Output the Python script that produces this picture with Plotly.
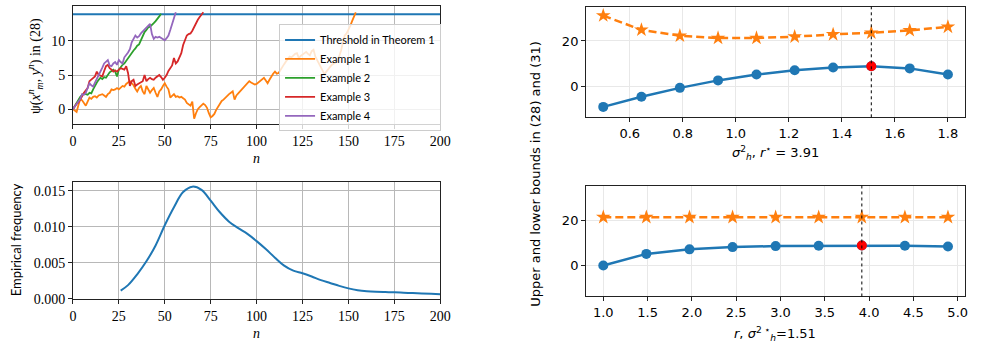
import plotly.graph_objects as go

# ---------------- data ----------------
threshold = 13.9
thr_n = [0, 200]

ex1 = [0.0, -0.2, -0.4, 0.6, 1.5, 1.3, 0.9, 0.5, 1.1, 1.7, 1.5, 1.8, 1.9, 1.7, 2.0, 2.1, 2.2, 2.0, 1.8, 2.2,
       2.4, 2.9, 2.8, 2.9, 3.1, 2.9, 3.2, 3.4, 3.3, 3.7, 3.9, 4.1, 3.8, 3.5, 3.0, 2.6, 3.1, 3.4, 2.6, 2.2,
       3.4, 2.9, 2.4, 2.8, 3.1, 2.4, 1.8, 2.6, 2.9, 3.4, 3.8, 3.3, 2.9, 1.7, 2.0, 2.2, 1.8, 1.9, 1.7, 1.8,
       1.6, 1.4, 0.9, 0.7, 0.5, 1.1, -1.4, -0.6, 0.0, 0.3, 0.6, 0.8, 0.6, 0.2, -0.6, -1.2, -1.0, -0.7, -0.1, 0.3,
       0.8, 1.2, 1.4, 1.7, 2.0, 2.2, 2.4, 2.6, 1.4, 2.0, 2.3, 2.6, 3.0, 3.3, 3.6, 3.9, 4.1, 3.9, 3.8, 3.6,
       3.7, 3.9, 4.1, 4.3, 4.6, 4.2, 3.8, 4.3, 4.8, 5.2, 5.5, 5.2, 5.3, 5.8, 6.2, 6.6, 7.0, 7.3, 7.7, 7.6,
       7.9, 8.1, 8.2, 7.5, 7.8, 8.0, 8.2, 8.4, 8.1, 7.9, 8.5, 8.7, 7.7, 7.2, 6.7, 6.3, 5.6, 5.1, 5.5, 5.9,
       6.2, 6.5, 6.7, 6.9, 7.0, 7.8, 8.6, 9.8, 10.8, 11.1, 11.6, 12.2, 12.9, 13.7, 14.2]
ex2 = [0.0, 0.5, 0.9, 1.3, 1.8, 2.1, 2.3, 2.2, 2.1, 2.4, 2.3, 2.9, 3.5, 3.9, 4.3, 4.6, 4.4, 4.7, 4.6, 5.1,
       5.4, 5.6, 5.8, 5.5, 4.8, 5.8, 6.2, 6.5, 6.7, 7.1, 7.5, 7.8, 8.2, 8.6, 8.9, 9.3, 9.5, 10.2, 10.8, 11.3,
       11.6, 12.0, 12.1, 12.3, 12.6, 12.9, 13.2, 13.6, 14.0]
ex3 = [0.0, 0.4, 0.8, 1.0, 1.4, 1.9, 2.4, 2.8, 3.1, 4.1, 4.3, 4.6, 4.8, 5.5, 5.0, 4.9, 4.8, 5.6, 6.3, 6.5,
       6.0, 5.8, 5.5, 5.7, 5.5, 5.8, 6.0, 5.9, 5.8, 6.3, 5.3, 3.4, 4.1, 4.3, 3.4, 3.6, 3.8, 4.0, 4.1, 5.0,
       4.1, 4.4, 4.6, 4.4, 4.3, 4.6, 4.8, 5.0, 4.7, 4.3, 4.6, 5.0, 5.6, 6.0, 6.4, 7.5, 6.7, 7.0, 7.6, 8.2,
       9.4, 10.2, 10.8, 11.0, 11.1, 11.5, 12.1, 12.7, 13.1, 13.5, 13.9, 14.2]
ex4 = [0.0, 0.4, 0.8, 1.1, 1.5, 2.2, 2.1, 2.4, 3.0, 3.8, 3.5, 3.3, 3.9, 4.4, 5.0, 5.5, 6.1, 6.7, 7.0, 7.2,
       6.4, 6.3, 6.7, 6.9, 6.5, 7.2, 6.9, 6.7, 7.6, 7.9, 8.3, 8.8, 9.8, 10.3, 10.8, 10.5, 10.7, 11.1, 11.4, 11.7,
       11.9, 12.3, 12.5, 11.0, 10.3, 10.6, 10.5, 10.6, 10.4, 10.2, 10.1, 10.4, 10.8, 11.6, 12.6, 13.5, 14.2]

dens_n = [26, 30, 35, 40, 45, 50, 55, 60, 65, 70, 75, 80, 85, 90, 95, 100, 105, 110, 115, 120,
          125, 130, 135, 140, 145, 150, 155, 160, 165, 170, 175, 180, 185, 190, 195, 200]
dens_f = [0.00114, 0.0019, 0.0034, 0.0052, 0.0074, 0.0102, 0.0127, 0.0148, 0.01555, 0.0151,
          0.0136, 0.0120, 0.0107, 0.0098, 0.0090, 0.0080, 0.0069, 0.0057, 0.0046, 0.0039,
          0.00355, 0.0031, 0.0026, 0.0022, 0.0018, 0.00145, 0.0012, 0.00105, 0.00097, 0.00093,
          0.0009, 0.00085, 0.0008, 0.00075, 0.0007, 0.00065]

sigma2 = [0.5, 0.644, 0.789, 0.933, 1.078, 1.222, 1.367, 1.511, 1.656, 1.8]
upper_sigma = [31.2, 24.9, 22.3, 21.3, 21.3, 21.9, 22.9, 23.6, 24.7, 26.2]
lower_sigma = [-9.1, -4.6, -0.7, 2.6, 5.2, 7.05, 8.3, 8.8, 7.9, 5.2]
sigma_star = 1.511
lower_sigma_star = 8.8

r_vals = [1.0, 1.486, 1.973, 2.459, 2.945, 3.431, 3.918, 4.404, 4.89]
upper_r = [21.3, 21.3, 21.3, 21.3, 21.3, 21.3, 21.3, 21.3, 21.3]
lower_r = [0.0, 5.1, 7.1, 8.1, 8.55, 8.7, 8.8, 8.7, 8.4]
r_star = 3.918
lower_r_star = 8.8

# ---------------- styling ----------------
BLUE, ORANGE, GREEN, RED, PURPLE = "#1f77b4", "#ff7f0e", "#2ca02c", "#d62728", "#9467bd"
SERIF = "Liberation Serif"
SANS_L = "Lato"
SANS_R = "DejaVu Sans"
W, H = 986, 356

fig = go.Figure()

# top-left
fig.add_trace(go.Scatter(x=thr_n, y=[threshold, threshold], mode="lines", name="Threshold in Theorem 1",
                         line=dict(color=BLUE, width=2), xaxis="x", yaxis="y"))
for name, vals, col in [("Example 1", ex1, ORANGE), ("Example 2", ex2, GREEN),
                        ("Example 3", ex3, RED), ("Example 4", ex4, PURPLE)]:
    fig.add_trace(go.Scatter(x=list(range(len(vals))), y=vals, mode="lines", name=name,
                             line=dict(color=col, width=1.8), xaxis="x", yaxis="y"))

# bottom-left
fig.add_trace(go.Scatter(x=dens_n, y=dens_f, mode="lines", line=dict(color=BLUE, width=2, shape="spline"),
                         showlegend=False, xaxis="x2", yaxis="y2"))

# top-right
fig.add_trace(go.Scatter(x=sigma2, y=upper_sigma, mode="lines+markers", showlegend=False,
                         line=dict(color=ORANGE, width=2.5, dash="8px,4px"),
                         marker=dict(symbol="star", size=11, color=ORANGE), xaxis="x3", yaxis="y3"))
fig.add_trace(go.Scatter(x=sigma2, y=lower_sigma, mode="lines+markers", showlegend=False,
                         line=dict(color=BLUE, width=2.5),
                         marker=dict(symbol="circle", size=10, color=BLUE), xaxis="x3", yaxis="y3"))
fig.add_trace(go.Scatter(x=[sigma_star], y=[lower_sigma_star], mode="markers", showlegend=False,
                         marker=dict(symbol="circle", size=10, color="#ff0000"), xaxis="x3", yaxis="y3"))

# bottom-right
fig.add_trace(go.Scatter(x=r_vals, y=upper_r, mode="lines+markers", showlegend=False,
                         line=dict(color=ORANGE, width=2.5, dash="8px,4px"),
                         marker=dict(symbol="star", size=11, color=ORANGE), xaxis="x4", yaxis="y4"))
fig.add_trace(go.Scatter(x=r_vals, y=lower_r, mode="lines+markers", showlegend=False,
                         line=dict(color=BLUE, width=2.5),
                         marker=dict(symbol="circle", size=10, color=BLUE), xaxis="x4", yaxis="y4"))
fig.add_trace(go.Scatter(x=[r_star], y=[lower_r_star], mode="markers", showlegend=False,
                         marker=dict(symbol="circle", size=10, color="#ff0000"), xaxis="x4", yaxis="y4"))

# vertical dotted lines
fig.add_shape(type="line", xref="x3", yref="y3 domain", x0=sigma_star, x1=sigma_star, y0=0, y1=1,
              line=dict(color="black", width=1, dash="dot"))
fig.add_shape(type="line", xref="x4", yref="y4 domain", x0=r_star, x1=r_star, y0=0, y1=1,
              line=dict(color="black", width=1, dash="dot"))

def px_x(a, b):
    return [a / W, b / W]

def px_y(top, bottom):
    return [1 - bottom / H, 1 - top / H]

left_ax = dict(showline=True, linecolor="#222", linewidth=1, mirror=True, ticks="outside", ticklen=4,
               tickcolor="#222", showgrid=True, gridcolor="#b8b8b8", gridwidth=1, zeroline=False,
               tickfont=dict(family=SERIF, size=14, color="black"))
right_ax = dict(showline=True, linecolor="#222", linewidth=1, mirror=True, ticks="outside", ticklen=4,
                tickcolor="#222", showgrid=True, gridcolor="#e8e8e8", gridwidth=1, zeroline=False,
                tickfont=dict(family=SANS_R, size=13, color="black"))

fig.update_layout(
    width=W, height=H, margin=dict(l=0, r=0, t=0, b=0),
    paper_bgcolor="white", plot_bgcolor="white",
    xaxis=dict(domain=px_x(70, 443), range=[0, 200], tickvals=list(range(0, 201, 25)), anchor="y", **left_ax),
    yaxis=dict(domain=px_y(6.3, 127), range=[-2.2, 15.1], tickvals=[0, 5, 10], anchor="x", **left_ax),
    xaxis2=dict(domain=px_x(70, 443), range=[0, 200], tickvals=list(range(0, 201, 25)), anchor="y2", **left_ax),
    yaxis2=dict(domain=px_y(185.7, 305.7), range=[0, 0.01626], tickvals=[0, 0.005, 0.010, 0.015],
                tickformat=".3f", anchor="x2", **left_ax),
    xaxis3=dict(domain=px_x(591, 976), range=[0.435, 1.865], tickvals=[0.6, 0.8, 1.0, 1.2, 1.4, 1.6, 1.8],
                tickformat=".1f", anchor="y3", **right_ax),
    yaxis3=dict(domain=px_y(6.7, 120), range=[-13.7, 35.2], tickvals=[0, 20], anchor="x3", **right_ax),
    xaxis4=dict(domain=px_x(591, 976), range=[0.805, 5.084], tickvals=[1.0, 1.5, 2.0, 2.5, 3.0, 3.5, 4.0, 4.5, 5.0],
                tickformat=".1f", anchor="y4", **right_ax),
    yaxis4=dict(domain=px_y(190, 303.3), range=[-13.7, 35.2], tickvals=[0, 20], anchor="x4", **right_ax),
    legend=dict(x=279.3 / W, y=1 - 25 / H, xanchor="left", yanchor="top",
                bgcolor="rgba(255,255,255,0.8)", bordercolor="#cccccc", borderwidth=1,
                font=dict(family=SANS_L, size=11, color="black"), itemwidth=30, tracegroupgap=0),
)

def ann(text, x, y, font, angle=0):
    fig.add_annotation(text=text, x=x / W, y=1 - y / H, xref="paper", yref="paper",
                       showarrow=False, textangle=angle, font=font, xanchor="center", yanchor="middle")

serif14 = dict(family=SERIF, size=14, color="black")
ann("ψ(<i>x</i><sup><i>n</i></sup><sub><i>m</i></sub>, <i>y</i><sup><i>n</i></sup>) in (28)", 32, 68, serif14, -90)
ann("<i>n</i>", 256.7, 162, serif14)
ann("Empirical frequency", 13, 245, dict(family=SANS_L, size=13, color="black"), -90)
ann("<i>n</i>", 256.7, 341, serif14)
sans13 = dict(family=SANS_R, size=13, color="black")
ann("<i>σ</i><sup>2</sup><sub><i>h</i></sub>, <i>r</i><sup>⋆</sup> = 3.91", 783, 157, sans13)
ann("<i>r</i>, <i>σ</i><sup>2 ⋆</sup><sub><i>h</i></sub>=1.51", 783, 342, sans13)
ann("Upper and lower bounds in (28) and (31)", 539, 178, sans13, -90)

fig.write_html("out.html")
